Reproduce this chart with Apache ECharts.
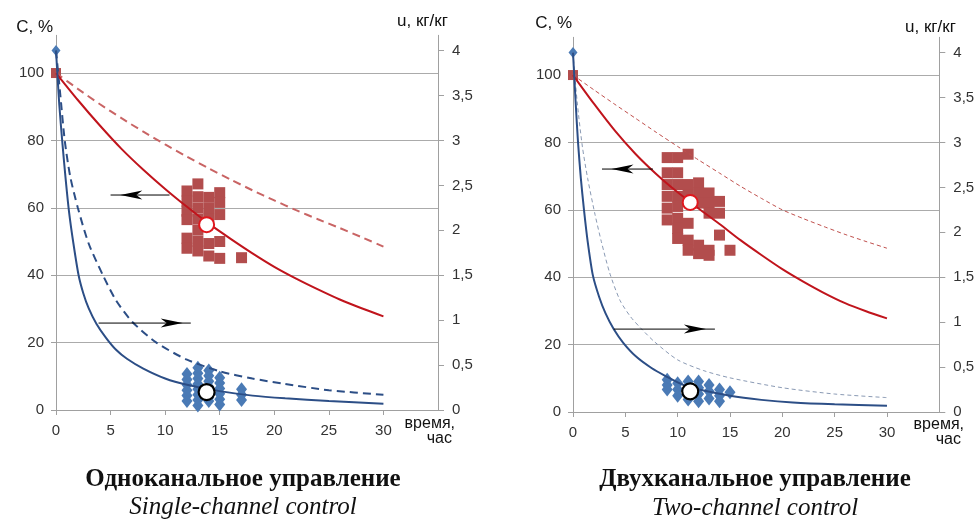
<!DOCTYPE html>
<html><head><meta charset="utf-8">
<script src="https://cdn.jsdelivr.net/npm/echarts@6/dist/echarts.min.js"></script>
<style>html,body{margin:0;padding:0;background:#fff}#c{width:978px;height:523px}</style>
</head><body><div id="c"></div>
<script>
// ---------- data ----------
const tTicks = [0, 5, 10, 15, 20, 25, 30];
const cTicks = [0, 20, 40, 60, 80, 100];
const uTicks = [0, 0.5, 1, 1.5, 2, 2.5, 3, 3.5, 4];

// red curves (C, %) - left axis
const tRed = [0, 2, 4, 6, 8, 10, 12, 14, 16, 18, 20, 22, 24, 26, 28, 30];
const redSolidL = [100, 92, 84.5, 77.5, 71.3, 65.6, 60.3, 55.3, 50.8, 46.5, 42.5, 39, 35.8, 32.8, 30.2, 27.8];
const redDashL  = [100, 95.3, 90.8, 86.6, 82.6, 78.8, 75.2, 71.7, 68.4, 65.2, 62.2, 59.3, 56.6, 54, 51.3, 48.5];
const redSolidR = [100, 91.5, 83.5, 76.5, 70.5, 65.2, 60.4, 55.8, 51, 46.6, 42.4, 38.7, 35.3, 32.3, 29.9, 27.8];
const redDashR  = [100, 95.6, 91.3, 87.1, 82.9, 78.8, 74.8, 70.9, 67, 63.4, 60, 57.4, 55, 52.7, 50.6, 48.6];

// blue curves (u, kg/kg) - right axis
const tBlueSolidL = [0, 0.3, 0.6, 0.9, 1.2, 1.6, 2.07, 2.5, 3, 3.7, 4.6, 5.5, 6.5, 8, 10, 12, 15, 18, 21, 25, 30];
const blueSolidL  = [4, 3.4, 2.95, 2.55, 2.2, 1.85, 1.5, 1.3, 1.13, 0.96, 0.8, 0.67, 0.57, 0.46, 0.35, 0.28, 0.21, 0.16, 0.13, 0.1, 0.07];
const tBlueDashL  = [0, 0.4, 0.8, 1.3, 2, 3, 4.3, 5.5, 7, 9.2, 12, 15, 18, 21, 25, 30];
const blueDashL   = [4, 3.5, 3.0, 2.6, 2.25, 1.85, 1.5, 1.22, 0.98, 0.75, 0.56, 0.43, 0.35, 0.29, 0.22, 0.17];
const tBlueSolidR = [0, 0.25, 0.48, 0.75, 1.05, 1.4, 1.9, 2.5, 3.1, 3.9, 4.8, 6, 7.5, 9, 10, 11.2, 12, 15, 18, 21, 25, 30];
const blueSolidR  = [4, 3.45, 3.0, 2.6, 2.25, 1.9, 1.52, 1.28, 1.1, 0.92, 0.77, 0.62, 0.49, 0.39, 0.33, 0.27, 0.25, 0.18, 0.135, 0.105, 0.085, 0.07];
const tBlueDashR  = [0, 0.4, 0.9, 1.4, 2.1, 2.7, 3.5, 4.5, 5.5, 6.5, 7.8, 10, 12.5, 15, 20, 25, 30];
const blueDashR   = [4, 3.45, 2.95, 2.6, 2.2, 1.9, 1.55, 1.24, 1.06, 0.93, 0.78, 0.58, 0.46, 0.38, 0.27, 0.2, 0.16];

// experimental points
const redSqL = [[12,65],[12,62],[12,59],[12,56.5],[12,51],[12,48],
  [13,67.1],[13,63.3],[13,60],[13,56.7],[13,53.4],[13,50.1],[13,47.2],
  [14,63.1],[14,59.8],[14,56.6],[14,49.4],[14,45.7],
  [15,64.5],[15,61.6],[15,58],[15,50],[15,45],[17,45.2]];
const blueDiaL = [[12,0.4],[12,0.34],[12,0.28],[12,0.22],[12,0.16],[12,0.1],
  [13,0.47],[13,0.41],[13,0.35],[13,0.29],[13,0.23],[13,0.17],[13,0.11],[13,0.05],
  [14,0.44],[14,0.38],[14,0.32],[14,0.26],[14,0.2],[14,0.14],[14,0.1],
  [15,0.36],[15,0.3],[15,0.24],[15,0.18],[15,0.12],[15,0.06],
  [17,0.23],[17,0.17],[17,0.11]];
const redSqR = [[9,75.5],[9,71],[9,67.5],[9,64],[9,60.5],[9,57],
  [10,75.5],[10,71],[10,67.5],[10,64],[10,61],[10,57.5],[10,54.5],[10,51.5],
  [11,76.5],[11,67.5],[11,64.5],[11,56],[11,51],[11,48],
  [12,68],[12,65],[12,62],[12,49.5],[12,47],
  [13,65],[13,62],[13,59],[13,48],[13,46.5],
  [14,62.5],[14,59],[14,52.5],[15,48]];
const blueDiaR = [[9,0.36],[9,0.3],[9,0.25],[10,0.32],[10,0.25],[10,0.18],
  [11,0.34],[11,0.27],[11,0.2],[11,0.14],[12,0.34],[12,0.27],[12,0.2],[12,0.12],
  [13,0.3],[13,0.23],[13,0.15],[14,0.25],[14,0.18],[14,0.12],[15,0.22]];

// means
const meanRedL = [13.8, 55];
const meanBlueL = [13.8, 0.2];
const meanRedR = [11.2, 62.2];
const meanBlueR = [11.2, 0.23];
// initial values
const startRed = [0, 100];
const startBlue = [0, 4];

// arrows (in C, % coordinates)
const arrowRedShaftL = [[5.0, 63.8], [10.4, 63.8]];
const arrowRedHeadL = [6.9, 63.8];
const arrowBlueShaftL = [[3.9, 25.8], [12.35, 25.8]];
const arrowBlueHeadL = [10.6, 25.8];
const arrowRedShaftR = [[2.77, 72.1], [7.64, 72.1]];
const arrowRedHeadR = [4.73, 72.1];
const arrowBlueShaftR = [[3.9, 24.6], [13.56, 24.6]];
const arrowBlueHeadR = [11.65, 24.6];

// ---------- chart ----------
const axisCol = '#a0a0a0';
const gridCol = '#ababab';
const txtCol = '#333';
const sans = '"Liberation Sans", Arial, sans-serif';
const serif = '"Liberation Serif", "Times New Roman", serif';
const cMax = 111.2, uMax = 4.17;

const pairs = (t, v) => t.map((x, i) => [x, v[i]]);
const HEAD_LEFT = 'path://M0,4 L22,0 L16,4 L22,8 Z';
const HEAD_RIGHT = 'path://M22,4 L0,0 L6,4 L0,8 Z';

function chartSeries(g, d) {
  const xi = g, yc = 2 * g, yu = 2 * g + 1;
  const line = (data, yIdx, color, width, type, z) => ({
    type: 'line', xAxisIndex: xi, yAxisIndex: yIdx, data, showSymbol: false,
    smooth: 0.25, z,
    lineStyle: { color, width, type }, silent: true
  });
  const sc = (data, yIdx, symbol, size, style, z) => ({
    type: 'scatter', xAxisIndex: xi, yAxisIndex: yIdx, data, symbol, symbolSize: size,
    itemStyle: Object.assign({ opacity: 1 }, style), z, silent: true
  });
  return [
    sc(d.redSq, yc, 'rect', [11, 11], { color: '#b24d4d' }, 2),
    sc(d.blueDia, yu, 'diamond', [11, 14], { color: '#4a7ab5' }, 2),
    sc([startRed], yc, 'rect', [10, 10], { color: '#b24d4d' }, 2),
    sc([startBlue], yu, 'diamond', [9, 11], { color: '#4a7ab5' }, 2),
    line(pairs(tRed, d.redDash), yc, d.redDashColor, d.dashWidth, d.dashType, 3),
    line(pairs(tRed, d.redSolid), yc, '#c0141c', 2, 'solid', 4),
    line(pairs(d.tBlueDash, d.blueDash), yu, d.blueDashColor, d.dashWidth, d.dashType, 3),
    line(pairs(d.tBlueSolid, d.blueSolid), yu, '#2c4e86', 2, 'solid', 4),
    { type: 'line', xAxisIndex: xi, yAxisIndex: yc, data: d.redShaft, showSymbol: false, z: 5, silent: true, lineStyle: { color: '#000', width: 1 } },
    { type: 'line', xAxisIndex: xi, yAxisIndex: yc, data: d.blueShaft, showSymbol: false, z: 5, silent: true, lineStyle: { color: '#000', width: 1 } },
    sc([d.redHead], yc, HEAD_LEFT, [22, 9], { color: '#000' }, 5),
    sc([d.blueHead], yc, HEAD_RIGHT, [22, 9], { color: '#000' }, 5),
    sc([d.meanRed], yc, 'circle', 15, { color: '#fff', borderColor: '#e0181e', borderWidth: 2 }, 6),
    sc([d.meanBlue], yu, 'circle', 16, { color: '#fff', borderColor: '#000', borderWidth: 2.2 }, 6)
  ];
}

const series = [].concat(
  chartSeries(0, {
    redSq: redSqL, blueDia: blueDiaL, redSolid: redSolidL, redDash: redDashL,
    tBlueSolid: tBlueSolidL, blueSolid: blueSolidL, tBlueDash: tBlueDashL, blueDash: blueDashL,
    redDashColor: '#c96464', blueDashColor: '#2c4e86', dashWidth: 2, dashType: [8, 5],
    redShaft: arrowRedShaftL, blueShaft: arrowBlueShaftL, redHead: arrowRedHeadL, blueHead: arrowBlueHeadL,
    meanRed: meanRedL, meanBlue: meanBlueL
  }),
  chartSeries(1, {
    redSq: redSqR, blueDia: blueDiaR, redSolid: redSolidR, redDash: redDashR,
    tBlueSolid: tBlueSolidR, blueSolid: blueSolidR, tBlueDash: tBlueDashR, blueDash: blueDashR,
    redDashColor: '#c0504d', blueDashColor: '#8a9ab4', dashWidth: 1, dashType: [4, 3],
    redShaft: arrowRedShaftR, blueShaft: arrowBlueShaftR, redHead: arrowRedHeadR, blueHead: arrowBlueHeadR,
    meanRed: meanRedR, meanBlue: meanBlueR
  })
);

const xAxes = [0, 1].map(i => ({
  type: 'value', gridIndex: i, min: 0, max: 35,
  axisLine: { show: true, lineStyle: { color: axisCol } },
  axisTick: { show: true, customValues: tTicks, length: 5, lineStyle: { color: axisCol } },
  axisLabel: { customValues: tTicks, margin: 13, fontSize: 15, color: txtCol, fontFamily: sans },
  splitLine: { show: false }
}));
const yAxes = [];
[0, 1].forEach(i => {
  yAxes.push({
    type: 'value', gridIndex: i, position: 'left', min: 0, max: cMax,
    axisLine: { show: true, lineStyle: { color: axisCol } },
    axisTick: { show: true, customValues: cTicks, length: 5, lineStyle: { color: axisCol } },
    axisLabel: { customValues: cTicks, margin: 12, fontSize: 15, color: txtCol, fontFamily: sans },
    splitLine: { show: true, lineStyle: { color: [gridCol, gridCol, gridCol, gridCol, gridCol, gridCol, 'rgba(0,0,0,0)'], width: 1 } }
  });
  yAxes.push({
    type: 'value', gridIndex: i, position: 'right', min: 0, max: uMax,
    axisLine: { show: true, lineStyle: { color: axisCol } },
    axisTick: { show: true, customValues: uTicks, length: 6, lineStyle: { color: axisCol } },
    axisLabel: { customValues: uTicks, margin: 14, fontSize: 15, color: txtCol, fontFamily: sans,
      formatter: v => String(v).replace('.', ',') },
    splitLine: { show: false }
  });
});

const txt = (text, x, y, font, align) => ({
  type: 'text', x, y, silent: true,
  style: { text, font, fill: '#111', align, verticalAlign: 'middle' }
});
const labelFont = '17px ' + sans;
const graphic = [
  txt('C, %', 53, 27, labelFont, 'right'),
  txt('u, кг/кг', 397, 21, labelFont, 'left'),
  txt('время,', 455, 424, '16px ' + sans, 'right'),
  txt('час', 452, 439, '16px ' + sans, 'right'),
  txt('C, %', 572, 23, labelFont, 'right'),
  txt('u, кг/кг', 905, 27, labelFont, 'left'),
  txt('время,', 964, 425, '16px ' + sans, 'right'),
  txt('час', 961, 440, '16px ' + sans, 'right'),
  txt('Одноканальное управление', 243, 480, 'bold 25px ' + serif, 'center'),
  txt('Single-channel control', 243, 507, 'italic 25px ' + serif, 'center'),
  txt('Двухканальное управление', 755, 480, 'bold 25px ' + serif, 'center'),
  txt('Two-channel control', 755, 508, 'italic 25px ' + serif, 'center')
];

const chart = echarts.init(document.getElementById('c'), null, { renderer: 'canvas' });
chart.setOption({
  animation: false,
  backgroundColor: '#fff',
  grid: [
    { left: 56, right: 540, top: 35.3, bottom: 113 },
    { left: 573, right: 38.7, top: 37.3, bottom: 111 }
  ],
  xAxis: xAxes,
  yAxis: yAxes,
  series,
  graphic
});
</script></body></html>
